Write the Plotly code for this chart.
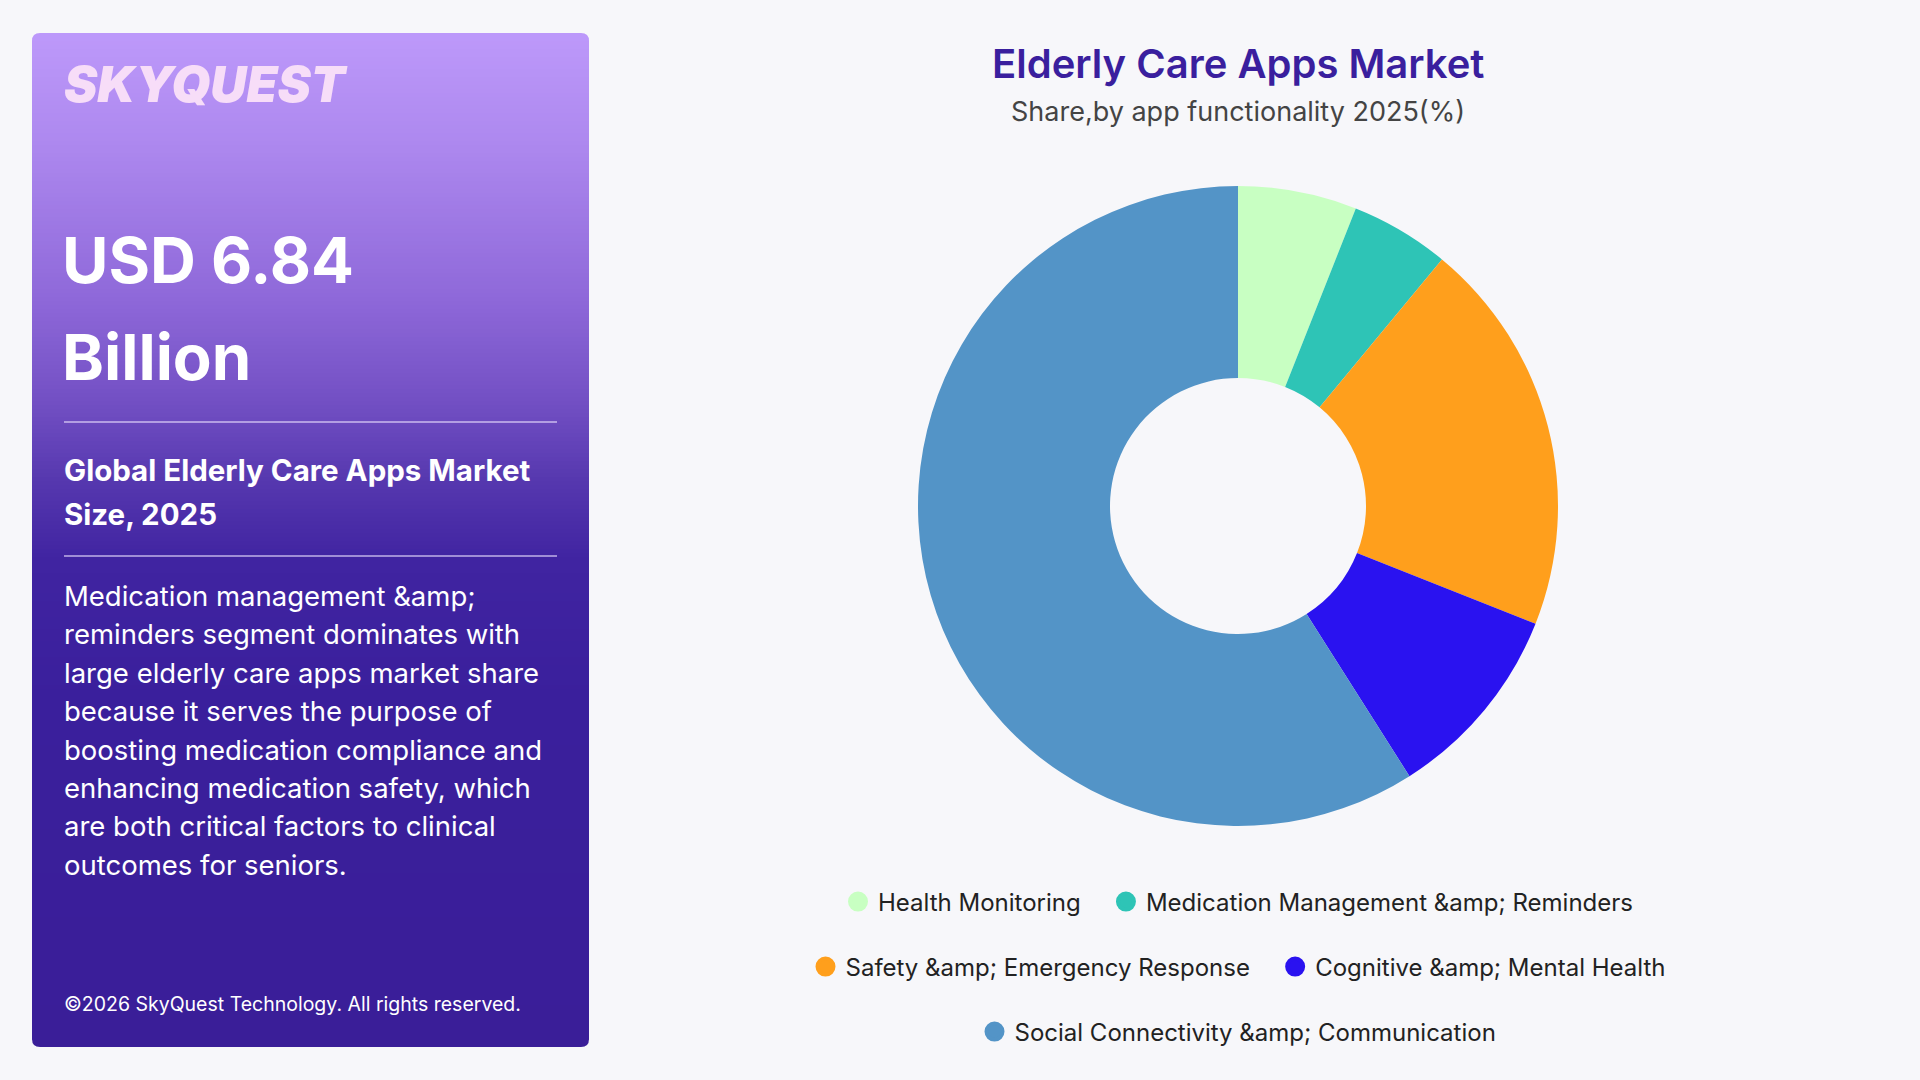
import plotly.graph_objects as go

# ---------------- data ----------------
categories = [
    "Health Monitoring",
    "Medication Management &amp; Reminders",
    "Safety &amp; Emergency Response",
    "Cognitive &amp; Mental Health",
    "Social Connectivity &amp; Communication",
]
shares = [6, 5, 20, 10, 59]
colors = ["#C8FFC2", "#2EC4B6", "#FF9F1C", "#2A12F0", "#5394C7"]
legend_rows = ["legend", "legend", "legend2", "legend2", "legend3"]

title_text = "Elderly Care Apps Market"
subtitle_text = "Share,by app functionality 2025(%)"
logo_text = "SKYQUEST"
headline_lines = ["USD 6.84", "Billion"]
caption_lines = ["Global Elderly Care Apps Market", "Size, 2025"]
body_lines = [
    "Medication management &amp;",
    "reminders segment dominates with",
    "large elderly care apps market share",
    "because it serves the purpose of",
    "boosting medication compliance and",
    "enhancing medication safety, which",
    "are both critical factors to clinical",
    "outcomes for seniors.",
]
footer_text = "\u00a92026 SkyQuest Technology. All rights reserved."


def esc(s):
    return s.replace("&", "&amp;")


FONT = "Inter, 'Open Sans', sans-serif"
W, H = 1920, 1080
BG = "#F7F7FA"

fig = go.Figure()

# donut
cx, cy, R = 1238, 506, 320
fig.add_trace(go.Pie(
    labels=[esc(c) for c in categories],
    values=shares,
    marker=dict(colors=colors, line=dict(width=0)),
    hole=0.4,
    sort=False,
    direction="clockwise",
    rotation=0,
    textinfo="none",
    showlegend=False,
    domain=dict(x=[(cx - R) / W, (cx + R) / W], y=[1 - (cy + R) / H, 1 - (cy - R) / H]),
))

# legend entries (extra gap after the first entry of a row, as in the reference)
prev = None
for i, (cat, col, lg) in enumerate(zip(categories, colors, legend_rows)):
    nxt = legend_rows[i + 1] if i + 1 < len(legend_rows) else None
    label = esc(cat) + ("\u00a0\u00a0\u00a0" if nxt == lg else "")
    fig.add_trace(go.Scatter(
        x=[None], y=[None], mode="markers", name=label,
        marker=dict(color=col, size=16, symbol="circle", line=dict(color=col, width=4)),
        legend=lg, showlegend=True, hoverinfo="skip",
    ))

# ---------------- left panel gradient ----------------
px0, px1, py0, py1 = 32, 589, 33, 1047
stops = [
    (33, (0xBD, 0x99, 0xFA)),
    (150, (0xAC, 0x87, 0xEE)),
    (300, (0x8E, 0x68, 0xD9)),
    (400, (0x73, 0x50, 0xC4)),
    (480, (0x56, 0x38, 0xAF)),
    (560, (0x40, 0x24, 0xA1)),
    (700, (0x3A, 0x1F, 0x9C)),
    (1047, (0x3A, 0x1E, 0x98)),
]


def col_at(y):
    for (y0, c0), (y1, c1) in zip(stops[:-1], stops[1:]):
        if y0 <= y <= y1:
            t = (y - y0) / (y1 - y0)
            return "rgb(%d,%d,%d)" % tuple(round(a + (b - a) * t) for a, b in zip(c0, c1))
    return "rgb(%d,%d,%d)" % stops[-1][1]


shapes = []
r = 8
step = 4
y = py0 + r
while y < py1 - r:
    y2 = min(y + step, py1 - r)
    shapes.append(dict(type="rect", xref="x", yref="y", x0=px0, x1=px1, y0=y, y1=y2 + 0.6,
                       fillcolor=col_at((y + y2) / 2), line=dict(width=0), layer="below"))
    y = y2
# rounded caps
shapes.append(dict(type="path", xref="x", yref="y", layer="below", line=dict(width=0),
                   fillcolor=col_at(py0 + 4),
                   path=f"M {px0},{py0 + r + 0.6} L {px0},{py0 + r} Q {px0},{py0} {px0 + r},{py0} "
                        f"L {px1 - r},{py0} Q {px1},{py0} {px1},{py0 + r} L {px1},{py0 + r + 0.6} Z"))
shapes.append(dict(type="path", xref="x", yref="y", layer="below", line=dict(width=0),
                   fillcolor=col_at(py1 - 4),
                   path=f"M {px0},{py1 - r - 0.6} L {px0},{py1 - r} Q {px0},{py1} {px0 + r},{py1} "
                        f"L {px1 - r},{py1} Q {px1},{py1} {px1},{py1 - r} L {px1},{py1 - r - 0.6} Z"))
# dividers
for yy in (422, 556):
    shapes.append(dict(type="line", xref="x", yref="y", x0=64, x1=557, y0=yy, y1=yy,
                       line=dict(color="rgba(235,225,255,0.75)", width=1.5), layer="above"))

# ---------------- annotations ----------------
ann = []


def text(x, y, s, size, color, weight="normal", xanchor="left", style="normal"):
    ann.append(dict(x=x, y=y, xref="x", yref="y", text=s, showarrow=False,
                    xanchor=xanchor, yanchor="middle",
                    font=dict(family=FONT, size=size, color=color, weight=weight, style=style)))


text(61, 84, logo_text, 50, "#F7DDF8", weight=900, style="italic")
for s, yy in zip(headline_lines, [259, 356]):
    text(60, yy, s, 63.5, "#FFFFFF", weight=700)
for s, yy in zip(caption_lines, [470, 514]):
    text(62, yy, s, 29.5, "#FFFFFF", weight=700)
for i, s in enumerate(body_lines):
    text(62, 596 + i * 38.4, esc(s), 27.5, "#FFFFFF")
text(62, 1004, footer_text, 19.5, "#FFFFFF")

text(cx, 63, title_text, 40, "#3A1F9E", weight=600, xanchor="center")
text(cx, 111, subtitle_text, 27, "#444444", xanchor="center")

legend_style = dict(orientation="h", x=cx / W, xanchor="center", yanchor="middle",
                    bgcolor="rgba(0,0,0,0)", font=dict(family=FONT, size=24, color="#222222"),
                    itemsizing="trace", itemwidth=30)

fig.update_layout(
    width=W, height=H, autosize=False,
    margin=dict(l=0, r=0, t=0, b=0, pad=0),
    paper_bgcolor=BG, plot_bgcolor="rgba(0,0,0,0)",
    xaxis=dict(range=[0, W], visible=False, domain=[0, 1], fixedrange=True),
    yaxis=dict(range=[H, 0], visible=False, domain=[0, 1], fixedrange=True),
    shapes=shapes,
    annotations=ann,
    legend=dict(legend_style, y=1 - 902 / H),
    legend2=dict(legend_style, y=1 - 967 / H),
    legend3=dict(legend_style, y=1 - 1032 / H),
    showlegend=True,
)

fig.write_html("out.html")
